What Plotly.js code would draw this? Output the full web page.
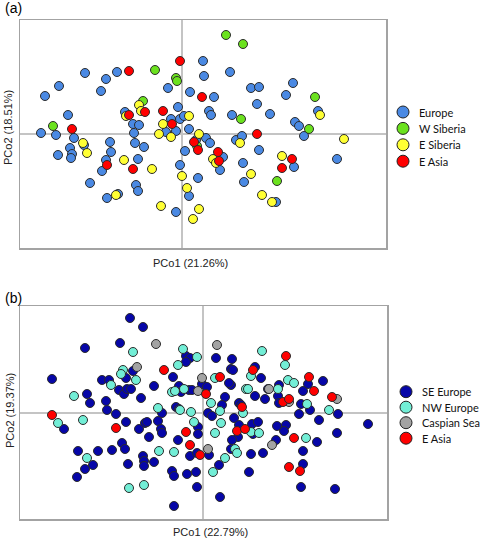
<!DOCTYPE html>
<html><head><meta charset="utf-8">
<script src="https://cdn.plot.ly/plotly-3.0.1.min.js"></script>
<style>html,body{margin:0;padding:0;background:#fff}#chart{width:480px;height:538px}</style>
</head><body><div id="chart"></div>
<script>
// ---------- Panel (a) data: [PCo1, PCo2] scores (arbitrary units) ----------
const groupsA = ['Europe', 'W Siberia', 'E Siberia', 'E Asia'];
const colorsA = ['#4A89E3', '#6BE21E', '#FFFF33', '#FF0000'];
const europeA = [[-97,61],[-76,55],[-65,62],[-123,48],[-137,38],[-81,43],[-14,46],[8,42],[-114,19],[-57,22],[-4,27],[-11,15],[-2,15],[2,18],[-49,10],[-43,9],[-141,1],[-126,-1],[-108,-4],[-98,-11],[-112,-14],[-110,-20],[-111,-24],[-124,-21],[-72,-8],[-71,-18],[-47,-9],[-38,-13],[-76,-26],[-80,-37],[-44,-25],[-92,-49],[-46,-51],[-44,-57],[-64,-60],[-75,-64],[-6,-78],[-48,1],[-16,2],[-6,3],[7,5],[3,-17],[-2,-31],[7,-62],[16,-44],[27,23],[29,19],[50,19],[88,20],[113,12],[117,8],[122,-2],[136,23],[24,-4],[28,-9],[54,-6],[60,-2],[77,-16],[41,-23],[38,-36],[61,-29],[62,-48],[112,-33],[155,-25],[94,-68],[21,73],[22,58],[48,62],[32,37],[69,46],[77,47],[111,51],[104,39],[75,30],[14,-6]];
const wSiberiaA = [[-27,64],[-6,56],[-5,53],[-39,33],[-129,8],[44,99],[61,90],[133,37],[59,15],[127,5],[15,-12],[95,-47]];
const eSiberiaA = [[-43,29],[-56,18],[-41,23],[7,18],[-19,10],[-99,-9],[-95,-19],[-58,-26],[-30,-35],[-66,-61],[-21,-72],[11,-85],[-23,0],[-11,-3],[0,-42],[5,-54],[17,-75],[17,0],[138,19],[162,-5],[58,-9],[31,-25],[34,-29],[69,-40],[100,-22],[80,-61],[90,-68]];
const eAsiaA = [[-53,63],[-2,73],[20,37],[-53,19],[-37,22],[-19,23],[-10,10],[-110,5],[-75,-31],[-49,-35],[12,-8],[16,-16],[75,0],[36,-18],[37,-27],[110,-25],[100,-34]];
const xTitleA = 'PCo1 (21.26%)';
const yTitleA = 'PCo2 (18.51%)';

// ---------- Panel (b) data ----------
const groupsB = ['SE Europe', 'NW Europe', 'Caspian Sea', 'E Asia'];
const colorsB = ['#0606A8', '#72EED6', '#A3A3A3', '#FF0000'];
const seEuropeB = [[-73,95],[-60,86],[-83,70],[-118,65],[-17,57],[-13,55],[-17,51],[-70,42],[-77,35],[-30,36],[-151,34],[-101,33],[-94,33],[13,55],[29,54],[28,44],[30,43],[52,46],[58,35],[120,32],[-84,23],[-79,19],[-76,24],[-72,24],[-49,27],[-62,15],[-24,27],[-22,21],[-14,23],[-11,23],[-1,29],[-116,19],[-113,10],[-97,12],[-96,3],[-87,-1],[-139,-16],[-77,-9],[-41,0],[-27,6],[-24,4],[-58,-10],[-56,-9],[-64,-16],[-45,-8],[-42,-16],[-41,-20],[-54,-24],[-5,-14],[-5,-21],[-25,-27],[-81,-30],[-78,-36],[-125,-38],[-105,-38],[-91,-37],[-13,-43],[-6,-40],[-60,-43],[-59,-48],[-59,-53],[-49,-49],[-75,-51],[-110,-52],[-118,-56],[-126,-64],[-31,-58],[-29,-63],[-16,-61],[-7,-59],[-6,-74],[-29,-93],[4,26],[28,28],[26,30],[105,29],[100,22],[65,24],[76,28],[52,17],[62,14],[75,17],[76,10],[22,16],[19,8],[36,10],[38,8],[5,0],[9,-3],[31,-5],[36,-12],[49,-11],[55,-9],[50,-21],[35,-24],[29,-27],[28,-36],[48,-41],[60,-40],[16,-52],[6,-42],[46,-59],[17,-84],[74,-13],[83,-12],[81,-18],[73,-27],[114,-29],[100,-38],[100,-51],[98,-74],[132,-76],[96,-1],[107,3],[98,9],[135,-1],[116,-7],[134,-20],[165,-11]];
const nwEuropeB = [[-70,61],[-20,64],[-6,56],[-25,48],[-80,43],[-82,39],[-67,33],[59,62],[82,48],[48,37],[12,35],[85,33],[-92,28],[-31,21],[-28,22],[-19,24],[-129,17],[-145,-10],[-120,-7],[-45,5],[-23,3],[-12,1],[-9,-9],[-116,-45],[-44,-38],[-29,-39],[-74,-75],[-59,-72],[43,24],[45,24],[91,30],[75,24],[8,10],[40,0],[17,2],[18,-10],[12,-20],[48,-19],[56,-20],[32,-36],[34,-40],[22,-45],[10,-59],[103,-25],[104,9],[126,3]];
const caspianB = [[-47,69],[-66,46],[-1,35],[14,68],[-5,22],[5,-36],[66,24],[86,11],[134,14],[69,-32]];
const eAsiaB = [[-39,43],[83,57],[50,43],[17,36],[106,36],[3,19],[-151,-2],[-87,-15],[-17,-19],[-13,-32],[-3,-42],[39,6],[34,-18],[42,-16],[80,11],[86,14],[111,22],[129,16],[91,-25],[86,-54],[97,-58]];
const xTitleB = 'PCo1 (22.79%)';
const yTitleB = 'PCo2 (19.37%)';

// ---------- build ----------
const W = 480, H = 538;
const px = v => v / W, py = v => 1 - v / H;
const outline = {color: '#2b2b2b', width: 1};

function pts(name, arr, color, xa, ya) {
  return {type: 'scatter', mode: 'markers', name: name,
    x: arr.map(p => p[0]), y: arr.map(p => p[1]), xaxis: xa, yaxis: ya,
    showlegend: false, hoverinfo: 'skip',
    marker: {size: 9, color: color, line: outline}};
}

const seriesA = [europeA, wSiberiaA, eSiberiaA, eAsiaA];
const seriesB = [seEuropeB, nwEuropeB, caspianB, eAsiaB];
const traces = [];
seriesA.forEach((s, i) => traces.push(pts(groupsA[i], s, colorsA[i], 'x', 'y')));
seriesB.forEach((s, i) => traces.push(pts(groupsB[i], s, colorsB[i], 'x2', 'y2')));

// legend keys drawn on an invisible pixel-scaled overlay axis
const legA = {x: 403, y0: 112, dy: 16.4, tx: 417};
const legB = {x: 406, y0: 391.7, dy: 15.5, tx: 420};
const annotations = [];
const legFont = {family: 'Lato, sans-serif', size: 11, color: '#111'};
function legend(groups, colors, L) {
  traces.push({type: 'scatter', mode: 'markers', xaxis: 'x3', yaxis: 'y3',
    x: groups.map(() => L.x), y: groups.map((g, i) => L.y0 + i * L.dy),
    showlegend: false, hoverinfo: 'skip',
    marker: {size: 12, color: colors, line: {color: '#222', width: 1}}});
  groups.forEach((g, i) => annotations.push({text: g, xref: 'paper', yref: 'paper',
    x: px(L.tx), y: py(L.y0 + i * L.dy), xanchor: 'left', yanchor: 'middle', showarrow: false,
    font: legFont}));
}
legend(groupsA, colorsA, legA);
legend(groupsB, colorsB, legB);

const titleFont = {family: 'Liberation Sans, Arial, sans-serif', size: 11, color: '#222'};
function ann(text, x, y, angle) {
  annotations.push({text: text, xref: 'paper', yref: 'paper', x: px(x), y: py(y),
    xanchor: 'center', yanchor: 'middle', showarrow: false, textangle: angle || 0, font: titleFont});
}
ann(xTitleA, 190, 263); ann(yTitleA, 8, 128, -90);
ann(xTitleB, 210, 532); ann(yTitleB, 10, 411, -90);
annotations.push({text: '(a)', xref: 'paper', yref: 'paper', x: px(3), y: py(8), xanchor: 'left', yanchor: 'middle', showarrow: false, font: {family: 'Liberation Sans, Arial, sans-serif', size: 14, color: '#000'}});
annotations.push({text: '(b)', xref: 'paper', yref: 'paper', x: px(3), y: py(298), xanchor: 'left', yanchor: 'middle', showarrow: false, font: {family: 'Liberation Sans, Arial, sans-serif', size: 14, color: '#000'}});

function ax(domain, range, anchor) {
  return {domain: domain, range: range, anchor: anchor, showgrid: false, showticklabels: false,
    ticks: '', showline: true, mirror: true, linecolor: '#a3a3a3', linewidth: 1.5,
    zeroline: true, zerolinecolor: '#c4c4c4', zerolinewidth: 1.5, fixedrange: true};
}

const layout = {
  width: W, height: H, margin: {l: 0, r: 0, t: 0, b: 0},
  paper_bgcolor: '#fff', plot_bgcolor: 'rgba(0,0,0,0)', showlegend: false,
  xaxis: ax([px(20), px(386)], [-162, 204], 'y'),
  yaxis: ax([py(248), py(20)], [-114, 114], 'x'),
  xaxis2: ax([px(20), px(387)], [-183, 184], 'y2'),
  yaxis2: ax([py(519), py(306)], [-106, 107], 'x2'),
  xaxis3: {domain: [0, 1], range: [0, W], anchor: 'y3', visible: false, fixedrange: true},
  yaxis3: {domain: [0, 1], range: [H, 0], anchor: 'x3', visible: false, fixedrange: true},
  annotations: annotations
};

Plotly.newPlot('chart', traces, layout, {staticPlot: true, displayModeBar: false});
</script></body></html>
